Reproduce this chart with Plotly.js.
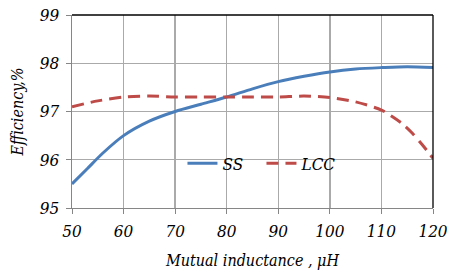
<!DOCTYPE html>
<html>
<head>
<meta charset="utf-8">
<script src="https://cdn.plot.ly/plotly-3.0.1.min.js"></script>
<style>html,body{margin:0;padding:0;background:#fff;}#chart{width:450px;height:278px;}</style>
</head>
<body>
<div id="chart"></div>
<script>
const mutualSS = [50,53,56,60,65,70,75,80,85,90,95,100,105,110,115,120];
const effSS = [95.5,95.82,96.14,96.5,96.8,97.0,97.15,97.3,97.47,97.62,97.73,97.82,97.88,97.91,97.93,97.91];
const mutualLCC = [50,55,60,65,70,75,80,85,90,95,100,105,110,112,114,116,118,120];
const effLCC = [97.1,97.22,97.3,97.32,97.3,97.3,97.3,97.3,97.3,97.32,97.29,97.2,97.03,96.9,96.75,96.55,96.3,96.03];
const xTicks = [50,60,70,80,90,100,110,120];
const yTicks = [95,96,97,98,99];

const fam = 'DejaVu Serif Condensed, DejaVu Serif';
const traces = [
  {x: mutualSS, y: effSS, name: 'SS', type: 'scatter', mode: 'lines',
   line: {color: '#4a7ebb', width: 3, shape: 'spline', smoothing: 0.8}},
  {x: mutualLCC, y: effLCC, name: 'LCC', type: 'scatter', mode: 'lines',
   line: {color: '#be4b48', width: 3, dash: '12px,7px', shape: 'spline', smoothing: 0.8}}
];
const layout = {
  width: 450, height: 278,
  margin: {l: 72, r: 17, t: 15, b: 70},
  paper_bgcolor: '#fff', plot_bgcolor: '#fff',
  font: {family: fam, size: 16, color: '#000', style: 'italic'},
  showlegend: true,
  legend: {orientation: 'h', x: 0.306, y: 0.23, xanchor: 'left', yanchor: 'middle',
           bgcolor: 'rgba(0,0,0,0)', font: {family: fam, size: 17, style: 'italic'},
           itemwidth: 30, tracegroupgap: 0, entrywidth: 34, entrywidthmode: 'pixels'},
  xaxis: {range: [50, 120], tickvals: xTicks, showgrid: true, gridcolor: '#aaaaaa', gridwidth: 1.3,
          zeroline: false, showline: true, linecolor: '#868686', linewidth: 1.3,
          ticks: 'outside', ticklen: 5, tickcolor: '#868686', ticklabelstandoff: 2,
          tickfont: {family: fam, size: 17, style: 'italic'},
          title: {text: 'Mutual inductance , μH', font: {family: fam, size: 16, style: 'italic'}, standoff: 15}},
  yaxis: {range: [95, 99], tickvals: yTicks, showgrid: true, gridcolor: '#aaaaaa', gridwidth: 1.3,
          zeroline: false, showline: true, linecolor: '#868686', linewidth: 1.3,
          ticks: 'outside', ticklen: 5, tickcolor: '#868686', ticklabelstandoff: 3,
          tickfont: {family: fam, size: 17, style: 'italic'},
          title: {text: 'Efficiency,%', font: {family: fam, size: 16, style: 'italic'}, standoff: 12}},
  shapes: [
    {type: 'line', xref: 'paper', yref: 'paper', x0: 0, x1: 1, y0: 1, y1: 1, line: {color: '#000', width: 1.3}},
    {type: 'line', xref: 'paper', yref: 'paper', x0: 1, x1: 1, y0: 0, y1: 1, line: {color: '#000', width: 1.3}}
  ]
};
Plotly.newPlot('chart', traces, layout, {displayModeBar: false, staticPlot: true});
</script>
</body>
</html>
